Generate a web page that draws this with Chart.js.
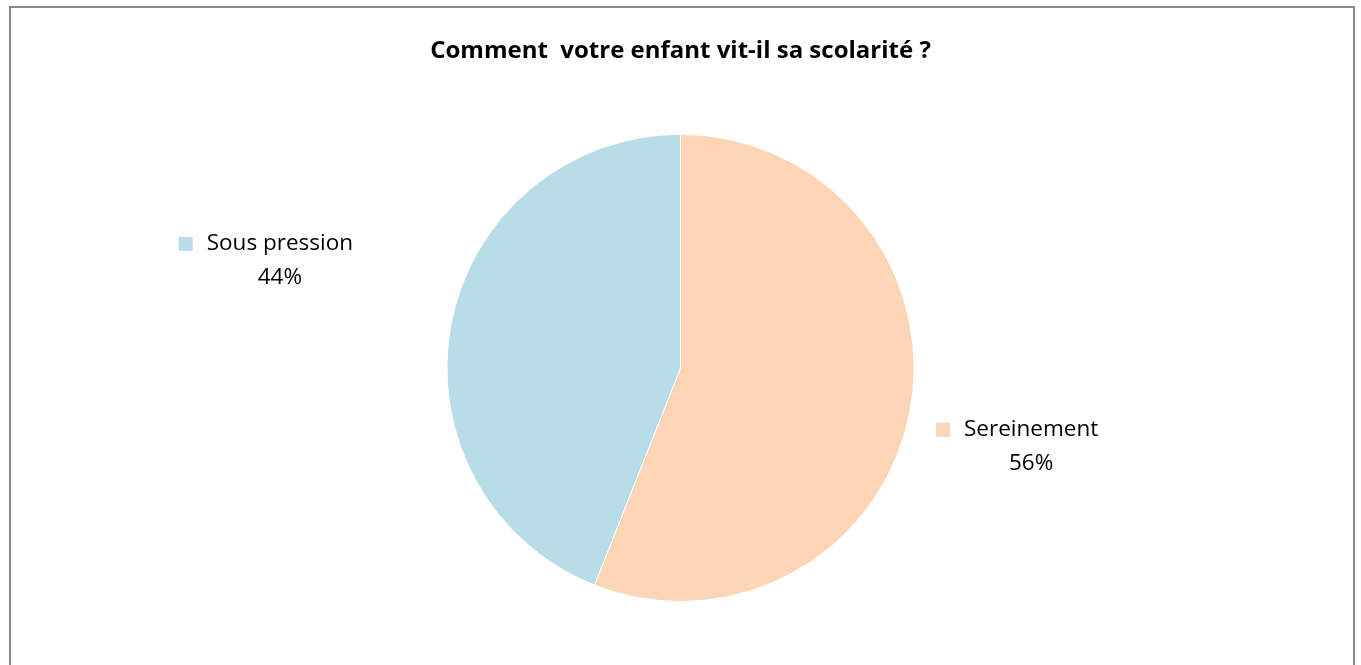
<!DOCTYPE html>
<html>
<head>
<meta charset="utf-8">
<script src="https://cdn.jsdelivr.net/npm/chart.js@4/dist/chart.umd.min.js"></script>
<style>
    html, body { margin: 0; padding: 0; background: #fff; overflow: hidden; }
    #wrap { position: relative; width: 1361px; height: 665px; }
    #frame {
        position: absolute; left: 9px; top: 6px; width: 1342px; height: 700px;
        border: 2px solid #888; pointer-events: none;
    }
</style>
</head>
<body>
<div id="wrap">
    <canvas id="myChart" width="1361" height="665"></canvas>
    <div id="frame"></div>
</div>
<script>
// Chart data
const titleText = 'Comment  votre enfant vit-il sa scolarité ?';
const labels = ['Sereinement', 'Sous pression'];
const values = [56, 44];
const colors = ['#FBD5B5', '#B7DDE8'];

const fontFamily = '"Open Sans", Lato, sans-serif';

// Draws the outside labels (marker + name + percent), Excel style
const sliceLabels = {
    id: 'sliceLabels',
    afterDatasetsDraw(chart, args, opts) {
        const ctx = chart.ctx;
        const meta = chart.getDatasetMeta(0);
        const total = values.reduce((a, b) => a + b, 0);
        meta.data.forEach((arc, i) => {
            const p = arc.getProps(['x', 'y', 'outerRadius']);
            const off = opts.offsets[i];
            const cx = p.x + off[0] * p.outerRadius;
            const cy = p.y + off[1] * p.outerRadius;
            ctx.save();
            ctx.font = '22.5px ' + fontFamily;
            ctx.fillStyle = '#000';
            ctx.textBaseline = 'middle';
            const name = labels[i];
            const w = ctx.measureText(name).width;
            const box = 14, gap = 14;
            const full = box + gap + w;
            const left = cx - full / 2;
            ctx.fillStyle = colors[i];
            ctx.fillRect(left, cy - 17 - box / 2, box, box);
            ctx.fillStyle = '#000';
            ctx.textAlign = 'left';
            ctx.fillText(name, left + box + gap, cy - 17);
            ctx.textAlign = 'center';
            const pct = Math.round(values[i] / total * 100) + '%';
            ctx.fillText(pct, left + box + gap + w / 2, cy + 17);
            ctx.restore();
        });
    }
};

const ctx = document.getElementById('myChart').getContext('2d');
const chart = new Chart(ctx, {
    type: 'pie',
    data: {
        labels: labels,
        datasets: [{
            data: values,
            backgroundColor: colors,
            borderColor: '#ffffff',
            borderWidth: 1
        }]
    },
    options: {
        responsive: false,
        animation: false,
        layout: { padding: { top: 0, bottom: 63 } },
        plugins: {
            legend: { display: false },
            tooltip: { enabled: false },
            title: {
                display: true,
                text: titleText,
                color: '#000',
                font: { family: fontFamily, size: 24, weight: 'bold' },
                padding: { top: 37, bottom: 68 }
            },
            sliceLabels: {
                offsets: [[1.441, 0.338], [-1.775, -0.458]]
            }
        }
    },
    plugins: [sliceLabels]
});
</script>
</body>
</html>
